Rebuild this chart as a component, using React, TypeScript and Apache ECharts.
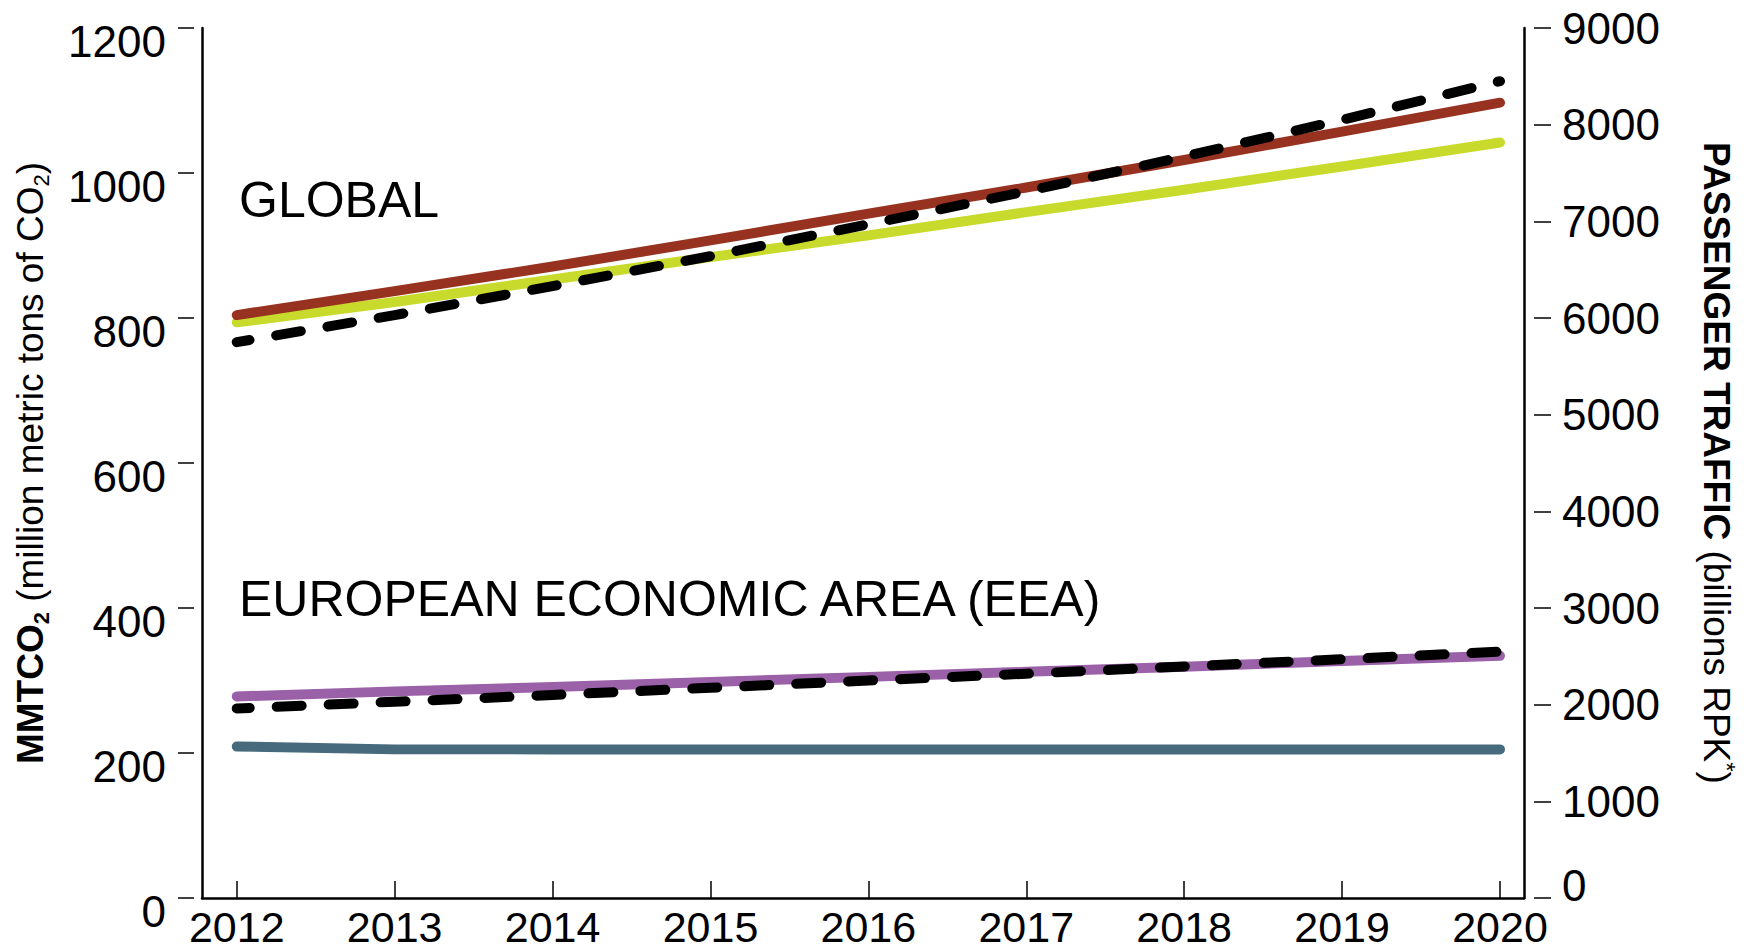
import React, { useEffect, useRef } from "react";
import * as echarts from "echarts";

// ---- data ----
const years = [2012, 2013, 2014, 2015, 2016, 2017, 2018, 2019, 2020];
// Global CO2 (MMTCO2, left axis)
const globalCO2High = [804, 837, 871, 907, 944, 980, 1018, 1057, 1097];
const globalCO2Low = [794, 822, 853, 884, 914, 946, 977, 1009, 1042];
// Global passenger traffic (billions RPK, right axis)
const globalRPK = [5750, 6030, 6330, 6640, 6970, 7310, 7670, 8050, 8450];
// EEA CO2 (MMTCO2, left axis)
const eeaCO2High = [278, 285, 291, 298, 305, 312, 319, 327, 334];
const eeaCO2Low = [209, 205, 205, 205, 205, 205, 205, 205, 205];
// EEA passenger traffic (billions RPK, right axis)
const eeaRPK = [1961, 2030, 2100, 2175, 2250, 2320, 2395, 2470, 2548];

const co2Ticks = [0, 200, 400, 600, 800, 1000, 1200];
const rpkTicks = [0, 1000, 2000, 3000, 4000, 5000, 6000, 7000, 8000, 9000];

const FONT = '"Liberation Sans", Arial, Helvetica, sans-serif';

const pair = (arr: number[]) => years.map((y, i) => [y, arr[i]]);

export default function App() {
  const ref = useRef<HTMLDivElement>(null);

  useEffect(() => {
    const chart = echarts.init(ref.current!, null, { renderer: "svg" });
    const tickLine = { color: "#000", width: 1.5 };
    const solid = (color: string) => ({
      color,
      width: 10,
      cap: "round",
      join: "round",
    });
    const dashed = {
      color: "#000",
      width: 10,
      type: [25, 27],
      dashOffset: 12,
      cap: "round",
      join: "round",
    };

    chart.setOption({
      animation: false,
      backgroundColor: "#fff",
      grid: { left: 202, right: 224, top: 28, bottom: 54, containLabel: false },
      xAxis: {
        type: "value",
        min: 2011.78,
        max: 2020.152,
        axisLine: { show: true, onZero: false, lineStyle: { color: "#000", width: 2.5 } },
        axisTick: { show: true, inside: true, length: 17, customValues: years, lineStyle: tickLine },
        axisLabel: {
          customValues: years,
          formatter: (v: number) => String(v),
          fontSize: 43,
          fontFamily: FONT,
          color: "#000",
          margin: 11,
          verticalAlign: "top",
          lineHeight: 35,
        },
        splitLine: { show: false },
      },
      yAxis: [
        {
          type: "value",
          position: "left",
          offset: 8,
          min: 0,
          max: 1200,
          interval: 200,
          axisLine: { show: false },
          axisTick: { show: true, inside: false, length: 16, customValues: co2Ticks, lineStyle: tickLine },
          axisLabel: {
            customValues: co2Ticks,
            formatter: (v: number) => "{a|" + String(v) + "}",
            fontSize: 44,
            fontFamily: FONT,
            color: "#000",
            margin: 28,
            rich: {
              a: { fontSize: 44, fontFamily: FONT, color: "#000", padding: [26, 0, 0, 0] },
            },
          },
          splitLine: { show: false },
          name: "{b|MMTCO}{bs|2}{r| (million metric tons of CO}{rs|2}{r|)}",
          nameLocation: "middle",
          nameRotate: 90,
          nameGap: 142,
          nameTextStyle: {
            fontFamily: FONT,
            fontSize: 37,
            color: "#000",
            rich: {
              b: { fontFamily: FONT, fontSize: 37, fontWeight: "bold", color: "#000", lineHeight: 44 },
              bs: { fontFamily: FONT, fontSize: 22, fontWeight: "bold", color: "#000", lineHeight: 22, verticalAlign: "bottom" },
              r: { fontFamily: FONT, fontSize: 37, color: "#000", lineHeight: 44 },
              rs: { fontFamily: FONT, fontSize: 22, color: "#000", lineHeight: 22, verticalAlign: "bottom" },
            },
          },
        },
        {
          type: "value",
          position: "right",
          offset: 10,
          min: 0,
          max: 9000,
          interval: 1000,
          axisLine: { show: false },
          axisTick: { show: true, inside: false, length: 17, customValues: rpkTicks, lineStyle: tickLine },
          axisLabel: {
            customValues: rpkTicks,
            formatter: (v: number) => (v === 0 ? "{z|0}" : String(v)),
            fontSize: 44,
            fontFamily: FONT,
            color: "#000",
            margin: 28,
            rich: {
              z: { fontSize: 44, fontFamily: FONT, color: "#000", padding: [0, 0, 26, 0] },
            },
          },
          splitLine: { show: false },
          name: "{b|PASSENGER TRAFFIC}{r| (billions RPK}{sup|*}{r|)}",
          nameLocation: "middle",
          nameRotate: -90,
          nameGap: 160,
          nameTextStyle: {
            fontFamily: FONT,
            fontSize: 37,
            color: "#000",
            rich: {
              b: { fontFamily: FONT, fontSize: 37, fontWeight: "bold", color: "#000", lineHeight: 44 },
              r: { fontFamily: FONT, fontSize: 37, color: "#000", lineHeight: 44 },
              sup: { fontFamily: FONT, fontSize: 24, color: "#000", lineHeight: 24, verticalAlign: "top" },
            },
          },
        },
        {
          type: "value",
          position: "left",
          offset: 0,
          min: 0,
          max: 1200,
          axisLine: { show: true, onZero: false, lineStyle: { color: "#000", width: 2.5 } },
          axisTick: { show: false },
          axisLabel: { show: false },
          splitLine: { show: false },
        },
        {
          type: "value",
          position: "right",
          offset: 0,
          min: 0,
          max: 9000,
          axisLine: { show: true, onZero: false, lineStyle: { color: "#000", width: 2.5 } },
          axisTick: { show: false },
          axisLabel: { show: false },
          splitLine: { show: false },
        },
      ],
      graphic: [
        {
          type: "text",
          x: 239,
          y: 199.5,
          style: { text: "GLOBAL", fontSize: 50, fontFamily: FONT, fill: "#000", verticalAlign: "middle" },
        },
        {
          type: "text",
          x: 239,
          y: 598.5,
          style: {
            text: "EUROPEAN ECONOMIC AREA (EEA)",
            fontSize: 50,
            fontFamily: FONT,
            fill: "#000",
            verticalAlign: "middle",
          },
        },
      ],
      series: [
        { name: "Global CO2 (low)", type: "line", yAxisIndex: 0, data: pair(globalCO2Low), symbol: "none", lineStyle: solid("#C8DA2B") },
        { name: "Global CO2 (high)", type: "line", yAxisIndex: 0, data: pair(globalCO2High), symbol: "none", lineStyle: solid("#983220") },
        { name: "Global RPK", type: "line", yAxisIndex: 1, data: pair(globalRPK), symbol: "none", lineStyle: dashed },
        { name: "EEA CO2 (low)", type: "line", yAxisIndex: 0, data: pair(eeaCO2Low), symbol: "none", lineStyle: solid("#476A7D") },
        { name: "EEA CO2 (high)", type: "line", yAxisIndex: 0, data: pair(eeaCO2High), symbol: "none", lineStyle: solid("#9A60A8") },
        { name: "EEA RPK", type: "line", yAxisIndex: 1, data: pair(eeaRPK), symbol: "none", lineStyle: dashed },
      ],
    });
    return () => chart.dispose();
  }, []);

  return (
    <div
      ref={ref}
      style={{ position: "absolute", left: 0, top: 0, width: 1748, height: 952 }}
    />
  );
}
